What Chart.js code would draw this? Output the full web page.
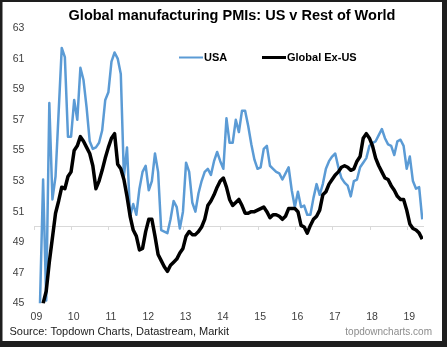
<!DOCTYPE html>
<html>
<head>
<meta charset="utf-8">
<script src="https://cdn.jsdelivr.net/npm/chart.js@4.4.1/dist/chart.umd.min.js"></script>
<style>
html, body { margin: 0; padding: 0; background: #1e1e1e; }
canvas { display: block; }
</style>
</head>
<body>
<canvas id="myChart" width="447" height="347"></canvas>
<script>
// texts
var chartTitle = 'Global manufacturing PMIs: US v Rest of World';
var sourceText = 'Source: Topdown Charts, Datastream, Markit';
var siteText = 'topdowncharts.com';

// x axis: one tick per year, labelled with two digits
var firstYear = 2009;
var yearLabels = ['09', '10', '11', '12', '13', '14', '15', '16', '17', '18', '19'];

// monthly readings, first value is this many months after Jan 2009
var usaStartMonth = 1;
var exUsStartMonth = 2;

var usaPMI = [
    45.0, 53.1, 45.2, 58.1, 51.8, 53.3, 57.5, 61.7, 61.1, 55.9, 55.9,
    58.3, 57.0, 60.4, 59.6, 57.8, 55.6, 55.1, 55.2, 55.5, 56.3, 58.3, 58.8,
    60.8, 61.4, 61.0, 60.0, 53.3, 55.2, 50.7, 51.5, 50.8, 52.5, 53.6, 54.0,
    52.4, 53.0, 54.8, 53.6, 49.8, 49.7, 49.6, 50.5, 51.7, 51.3, 49.9, 51.0,
    54.2, 53.6, 51.6, 51.0, 52.2, 53.0, 53.6, 53.8, 53.4, 54.3, 54.9, 54.3,
    53.8, 57.1, 55.5, 55.5, 57.0, 56.2, 57.6, 57.6, 56.6, 55.4, 54.4, 53.8,
    53.9, 55.1, 55.3, 54.0, 53.8, 53.6, 53.5, 53.1, 53.5, 53.9, 52.4, 51.3,
    52.3, 51.3, 51.4, 50.8, 50.8, 51.9, 52.8, 52.1, 52.8, 53.8, 54.3, 54.6,
    54.8, 53.9, 53.2, 52.9, 52.7, 52.0, 53.0, 53.1, 53.9, 54.2, 54.5, 55.3,
    55.5, 55.6, 56.0, 56.4, 55.8, 55.4, 55.3, 54.7, 55.6, 55.7, 55.3, 53.8,
    54.6, 53.0, 52.5, 52.6, 50.5
];

var exUsPMI = [
    45.0, 45.8, 47.7, 49.3, 50.9, 51.7, 52.6, 52.5, 53.3, 53.6,
    55.0, 55.3, 55.9, 55.6, 55.2, 54.8, 54.0, 52.5, 53.0, 53.7, 54.5, 55.2,
    55.8, 56.1, 54.1, 53.8, 53.1, 52.0, 50.7, 49.8, 49.4, 48.5, 48.6, 49.7,
    50.5, 50.5, 49.4, 48.2, 47.8, 47.4, 47.1, 47.5, 47.7, 47.9, 48.3, 48.6,
    49.4, 49.7, 49.5, 49.5, 49.7, 50.0, 50.5, 51.4, 51.7, 52.1, 52.6, 53.0,
    53.2, 52.6, 51.8, 51.4, 51.6, 51.8, 51.4, 50.9, 50.9, 51.0, 51.0, 51.1,
    51.2, 51.3, 51.0, 50.6, 50.8, 50.8, 50.7, 50.5, 50.7, 51.2, 51.2, 51.2,
    51.0, 50.1, 50.0, 49.6, 50.1, 50.5, 50.7, 51.1, 52.1, 52.3, 52.8, 53.1,
    53.4, 53.6, 53.9, 54.0, 53.9, 53.7, 53.8, 54.3, 54.6, 55.8, 56.1, 55.8,
    55.3, 54.5, 54.0, 53.6, 53.2, 53.1, 52.7, 52.4, 52.0, 51.8, 51.8, 51.1,
    50.2, 49.9, 49.8, 49.6, 49.2
];

var fontFamily = "'Liberation Sans', Arial, sans-serif";

function toPoints(values, startMonth){
    var pts = [];
    for (var i = 0; i < values.length; i++){
        pts.push({x: firstYear + (startMonth + i + 0.8) / 12, y: values[i]});
    }
    return pts;
}

// only whole years get a tick
function keepYears(scale){
    scale.ticks = scale.ticks.filter(function(t){
        return Math.abs(t.value - Math.round(t.value)) < 1e-6;
    });
}

var framePlugin = {
    id: 'frame',
    beforeDraw: function(chart){
        var c = chart.ctx;
        c.save();
        c.fillStyle = '#1e1e1e';
        c.fillRect(0, 0, chart.width, chart.height);
        c.fillStyle = '#ffffff';
        c.fillRect(2.5, 2, 439.5, 339);
        c.restore();
    },
    afterDraw: function(chart){
        var c = chart.ctx;
        c.save();
        c.textBaseline = 'middle';

        c.fillStyle = '#000000';
        c.font = 'bold 14.5px ' + fontFamily;
        c.textAlign = 'center';
        c.fillText(chartTitle, 232, 16);

        // legend, drawn from the datasets
        var legendX = [179, 262];
        var ds = chart.data.datasets;
        c.textAlign = 'left';
        c.font = 'bold 11px ' + fontFamily;
        for (var i = 0; i < ds.length; i++){
            c.strokeStyle = ds[i].borderColor;
            c.lineWidth = ds[i].borderWidth - 0.5;
            c.beginPath();
            c.moveTo(legendX[i], 57.5);
            c.lineTo(legendX[i] + 24, 57.5);
            c.stroke();
            c.fillStyle = '#000000';
            c.fillText(ds[i].label, legendX[i] + 25, 58);
        }

        c.font = '11px ' + fontFamily;
        c.fillStyle = '#1a1a1a';
        c.fillText(sourceText, 9.5, 332);

        c.font = '10px ' + fontFamily;
        c.fillStyle = '#8c8c8c';
        c.textAlign = 'right';
        c.fillText(siteText, 432, 332.5);
        c.restore();
    }
};

var tickFont = {family: fontFamily, size: 10.5};

var myChart = new Chart('myChart', {
    type: 'line',
    data: {
        datasets: [{
            label: 'USA',
            data: toPoints(usaPMI, usaStartMonth),
            borderColor: '#5B9BD5',
            borderWidth: 2.5,
            order: 2
        }, {
            label: 'Global Ex-US',
            data: toPoints(exUsPMI, exUsStartMonth),
            borderColor: '#000000',
            borderWidth: 3.5,
            order: 1
        }]
    },
    options: {
        responsive: false,
        animation: false,
        layout: {padding: {left: 0, right: 24, top: 28, bottom: 17.5}},
        elements: {
            point: {radius: 0},
            line: {tension: 0, borderJoinStyle: 'round', borderCapStyle: 'butt'}
        },
        plugins: {
            legend: {display: false},
            tooltip: {enabled: false}
        },
        scales: {
            x: {
                type: 'linear',
                min: 2009,
                max: 2019.42,
                afterBuildTicks: keepYears,
                afterFit: function(s){ s.height = 26; },
                grid: {display: false, drawTicks: false},
                border: {display: false},
                ticks: {
                    stepSize: 1,
                    includeBounds: false,
                    autoSkip: false,
                    maxRotation: 0,
                    padding: 7,
                    labelOffset: 2,
                    color: '#404040',
                    font: tickFont,
                    callback: function(v){ return yearLabels[Math.round(v) - firstYear]; }
                }
            },
            x50: {
                type: 'linear',
                axis: 'x',
                position: {y: 50},
                min: 2009,
                max: 2019.42,
                afterBuildTicks: keepYears,
                grid: {drawOnChartArea: false, drawTicks: true, tickLength: 3, color: '#d9d9d9'},
                border: {color: '#d9d9d9', width: 1},
                ticks: {display: false, stepSize: 1, includeBounds: false}
            },
            y: {
                min: 45,
                max: 63,
                afterFit: function(s){ s.width = 34.4; },
                grid: {display: false, drawTicks: false},
                border: {display: false},
                ticks: {stepSize: 2, padding: 10, color: '#404040', font: tickFont}
            }
        }
    },
    plugins: [framePlugin]
});
</script>
</body>
</html>
